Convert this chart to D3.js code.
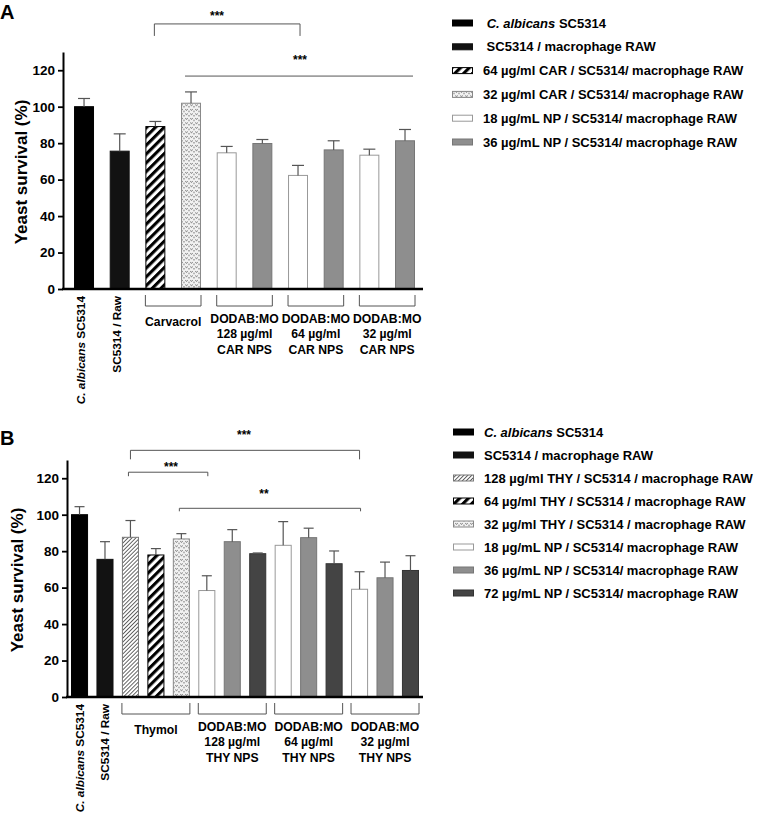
<!DOCTYPE html>
<html><head><meta charset="utf-8">
<script src="https://cdn.jsdelivr.net/npm/d3@7/dist/d3.min.js"></script>
<style>
body{margin:0;background:#fff;}
text{font-family:Arial,"Liberation Sans",sans-serif;font-weight:bold;fill:#000;white-space:pre;}
</style></head><body>
<svg id="chart" width="760" height="819"></svg>
<script>
// ---- panel A : carvacrol ----
const barsA = ["C. albicans SC5314","SC5314 / Raw","CAR 64","CAR 32","NP 128 / 18","NP 128 / 36","NP 64 / 18","NP 64 / 36","NP 32 / 18","NP 32 / 36"];
const meanA  = [100, 75.6, 89.1, 101.9, 74.7, 79.8, 62.3, 76.3, 73.4, 81.3];
const upperA = [104.5, 85.1, 91.9, 108.1, 78.2, 82, 67.8, 81.3, 76.7, 87.5];
const kindA  = ["black","raw","hatch","dots","white","grey","white","grey","white","grey"];
const legendA = ["\u00a0C. albicans SC5314","\u00a0SC5314 / macrophage RAW","64 µg/ml CAR / SC5314/ macrophage RAW","32 µg/ml CAR / SC5314/ macrophage RAW","18 µg/mL NP / SC5314/ macrophage RAW","36 µg/mL NP / SC5314/ macrophage RAW"];
const legendKindA = ["black","raw","hatch","dots","white","grey"];
const singleA = [[0,"C. albicans SC5314"],[1,"SC5314 / Raw"]];
const groupsA = [[2,3,["Carvacrol"]],[4,5,["DODAB:MO","128 µg/ml","CAR NPS"]],[6,7,["DODAB:MO","64 µg/ml","CAR NPS"]],[8,9,["DODAB:MO","32 µg/ml","CAR NPS"]]];
const sigA = [[2,6,"***"],[3,9,"***"]];

// ---- panel B : thymol ----
const barsB = ["C. albicans SC5314","SC5314 / Raw","THY 128","THY 64","THY 32","NP 128 / 18","NP 128 / 36","NP 128 / 72","NP 64 / 18","NP 64 / 36","NP 64 / 72","NP 32 / 18","NP 32 / 36","NP 32 / 72"];
const meanB  = [100, 75.5, 87.6, 77.9, 86.7, 58.4, 85.2, 78.6, 83.2, 87.4, 73.1, 59.1, 65.4, 69.4];
const upperB = [104.4, 85.2, 96.8, 81.4, 89.6, 66.5, 91.8, 79, 96.2, 92.6, 80.1, 68.7, 74, 77.5];
const kindB  = ["black","raw","thin","hatch","dots","white","grey","dark","white","grey","dark","white","grey","dark"];
const legendB = ["C. albicans SC5314","SC5314 / macrophage RAW","128 µg/ml THY / SC5314 / macrophage RAW","64 µg/ml THY / SC5314 / macrophage RAW","32 µg/ml THY / SC5314 / macrophage RAW","18 µg/mL NP / SC5314/ macrophage RAW","36 µg/mL NP / SC5314/ macrophage RAW","72 µg/mL NP / SC5314/ macrophage RAW"];
const legendKindB = ["black","raw","thin","hatch","dots","white","grey","dark"];
const singleB = [[0,"C. albicans SC5314"],[1,"SC5314 / Raw"]];
const groupsB = [[2,4,["Thymol"]],[5,7,["DODAB:MO","128 µg/ml","THY NPS"]],[8,10,["DODAB:MO","64 µg/ml","THY NPS"]],[11,13,["DODAB:MO","32 µg/ml","THY NPS"]]];
const sigB = [[2,11,"***"],[2,5,"***"],[4,11,"**"]];

const yTicks = [0,20,40,60,80,100,120];

const svg = d3.select("#chart");
const defs = svg.append("defs");

// fill patterns
const pHatch = defs.append("pattern").attr("id","hatch").attr("patternUnits","userSpaceOnUse")
  .attr("width",6.2).attr("height",6.2).attr("patternTransform","rotate(45)");
pHatch.append("rect").attr("width",6.2).attr("height",6.2).attr("fill","#fff");
pHatch.append("rect").attr("width",3.1).attr("height",6.2).attr("fill","#000");

const pThin = defs.append("pattern").attr("id","thin").attr("patternUnits","userSpaceOnUse")
  .attr("width",2.8).attr("height",2.8).attr("patternTransform","rotate(45)");
pThin.append("rect").attr("width",2.8).attr("height",2.8).attr("fill","#fff");
pThin.append("rect").attr("width",0.9).attr("height",2.8).attr("fill","#555");

const pDots = defs.append("pattern").attr("id","dots").attr("patternUnits","userSpaceOnUse")
  .attr("width",5).attr("height",4.5);
pDots.append("rect").attr("width",5).attr("height",4.5).attr("fill","#f2f2f2");
pDots.append("path").attr("d","M0.3,1 L1.5,2.4 L2.7,1").attr("fill","none").attr("stroke","#555").attr("stroke-width",0.8);
pDots.append("circle").attr("cx",4).attr("cy",3.4).attr("r",0.6).attr("fill","#444");

const style = {
  black: {fill:"#000", stroke:"#000"},
  raw:   {fill:"#121212", stroke:"#121212"},
  hatch: {fill:"url(#hatch)", stroke:"#000"},
  thin:  {fill:"url(#thin)", stroke:"#777"},
  dots:  {fill:"url(#dots)", stroke:"#888"},
  white: {fill:"#fff", stroke:"#999"},
  grey:  {fill:"#8e8e8e", stroke:"#767676"},
  dark:  {fill:"#444", stroke:"#333"}
};

function richText(sel, s) {
  const it = "C. albicans";
  if (s.includes(it)) {
    const i = s.indexOf(it);
    if (i > 0) sel.append("tspan").text(s.slice(0, i));
    sel.append("tspan").attr("font-style","italic").text(it);
    sel.append("tspan").text(s.slice(i + it.length));
  } else sel.text(s);
}

function drawPanel(c) {
  const g = svg.append("g");
  const x = d3.scaleBand().domain(d3.range(c.means.length))
    .range([c.left, c.right]).paddingInner(c.pin).paddingOuter(c.pout).align(c.align);
  const y = d3.scaleLinear().domain([0,130]).range([c.bottom, c.top]);
  const bw = x.bandwidth();

  // panel letter
  g.append("text").attr("x",0).attr("y",c.letterY).style("font-size","20px").text(c.letter);

  // y axis
  const ya = g.append("g").attr("transform",`translate(${c.left},0)`)
    .call(d3.axisLeft(y).tickValues(yTicks).tickSize(5).tickSizeOuter(0).tickPadding(3));
  ya.select(".domain").attr("stroke","#000").attr("stroke-width",2);
  ya.selectAll(".tick line").attr("stroke","#000").attr("stroke-width",1.8);
  ya.selectAll(".tick text").style("font-size","13.5px").style("font-family","Arial,'Liberation Sans',sans-serif").style("font-weight","bold").attr("fill","#000");

  g.append("text").attr("transform",`translate(${c.titleX},${c.titleY}) rotate(-90)`)
    .attr("text-anchor","middle").style("font-size","17px").text("Yeast survival (%)");

  // bars
  c.means.forEach((m, i) => {
    const s = style[c.kinds[i]];
    g.append("rect").attr("x", x(i) + 0.5).attr("y", y(m))
      .attr("width", bw - 1).attr("height", y(0) - y(m))
      .attr("fill", s.fill).attr("stroke", s.stroke).attr("stroke-width", 1);
    const cx = x(i) + bw / 2;
    g.append("line").attr("x1",cx).attr("x2",cx).attr("y1",y(m)).attr("y2",y(c.uppers[i]))
      .attr("stroke","#555").attr("stroke-width",1.2);
    g.append("line").attr("x1",cx - c.cap).attr("x2",cx + c.cap).attr("y1",y(c.uppers[i])).attr("y2",y(c.uppers[i]))
      .attr("stroke","#555").attr("stroke-width",1.2);
  });

  // x axis
  const xa = g.append("g").attr("transform",`translate(0,${c.bottom})`)
    .call(d3.axisBottom(x).tickValues([]).tickSizeOuter(0));
  xa.select(".domain").attr("stroke","#000").attr("stroke-width",2.6)
    .attr("d",`M${c.left - 1},0H${c.axisEnd}`);

  // single category labels (rotated)
  c.single.forEach(([i, s]) => {
    const t = g.append("text")
      .attr("transform",`translate(${x(i) + bw / 2 + c.rotDx},${c.bottom + 7}) rotate(-90)`)
      .attr("text-anchor","end").attr("dy","0.36em").style("font-size","11.8px");
    richText(t, s);
  });

  // group brackets + labels
  c.groups.forEach(([a, b, lines]) => {
    const x0 = x(a), x1 = x(b) + bw, yb = c.bottom + 17;
    g.append("path").attr("d",`M${x0},${c.bottom + 6}V${yb}H${x1}V${c.bottom + 6}`)
      .attr("fill","none").attr("stroke","#555").attr("stroke-width",1);
    const t = g.append("text").attr("text-anchor","middle").style("font-size","12.2px");
    if (lines.length === 1) {
      t.attr("x",(x0 + x1) / 2).attr("y", yb + 20).text(lines[0]);
    } else {
      lines.forEach((l, k) => t.append("tspan").attr("x",(x0 + x1) / 2).attr("y", yb + 17 + k * 15.3).text(l));
    }
  });

  // significance brackets
  c.sig.forEach(([a, b, label], k) => {
    const L = c.sigLayout[k];
    const xa0 = x(a) + bw / 2 + L.dx0, xb0 = x(b) + bw / 2 + L.dx1;
    const yl = y(L.level);
    const d = L.drop > 0 ? `M${xa0},${yl + L.drop}V${yl}H${xb0}V${yl + L.drop}` : `M${xa0},${yl}H${xb0}`;
    g.append("path").attr("d", d).attr("fill","none").attr("stroke","#555").attr("stroke-width",1);
    g.append("text").attr("x", L.tx).attr("y", yl - L.ty).attr("text-anchor","middle")
      .style("font-size","12px").text(label);
  });

  // legend
  c.legend.forEach((s, k) => {
    const yy = c.legY + k * c.legStep;
    const st = style[c.legKinds[k]];
    g.append("rect").attr("x", c.legX + 0.5).attr("y", yy - 3).attr("width", 20).attr("height", 6)
      .attr("fill", st.fill).attr("stroke", st.stroke).attr("stroke-width", 1);
    const t = g.append("text").attr("x", c.legX + 31).attr("y", yy + 4.6).style("font-size","13px");
    richText(t, s);
  });
}

drawPanel({
  letter:"A", letterY:19, means:meanA, uppers:upperA, kinds:kindA,
  left:63, right:423, axisEnd:423, pin:0.44, pout:0.267, align:0.58, top:52, bottom:289,
  cap:6, titleX:27, titleY:172, rotDx:-3,
  single:singleA, groups:groupsA, sig:sigA,
  sigLayout:[{level:145.4, drop:12, dx0:-1, dx1:2, tx:217, ty:4},
             {level:116.8, drop:0, dx0:-6, dx1:8, tx:300, ty:12}],
  legend:legendA, legKinds:legendKindA, legX:452, legY:23, legStep:23.8
});

drawPanel({
  letter:"B", letterY:445, means:meanB, uppers:upperB, kinds:kindB,
  left:67, right:423, axisEnd:423, pin:0.33, pout:0.157, align:0.5, top:460, bottom:697,
  cap:5, titleX:23, titleY:580, rotDx:0,
  single:singleB, groups:groupsB, sig:sigB,
  sigLayout:[{level:135.3, drop:9, dx0:0, dx1:0, tx:244, ty:11},
             {level:123.3, drop:4, dx0:-2, dx1:1, tx:171, ty:1},
             {level:103.5, drop:3, dx0:-2, dx1:1, tx:264, ty:10}],
  legend:legendB, legKinds:legendKindB, legX:453, legY:432, legStep:23
});
</script>
</body></html>
